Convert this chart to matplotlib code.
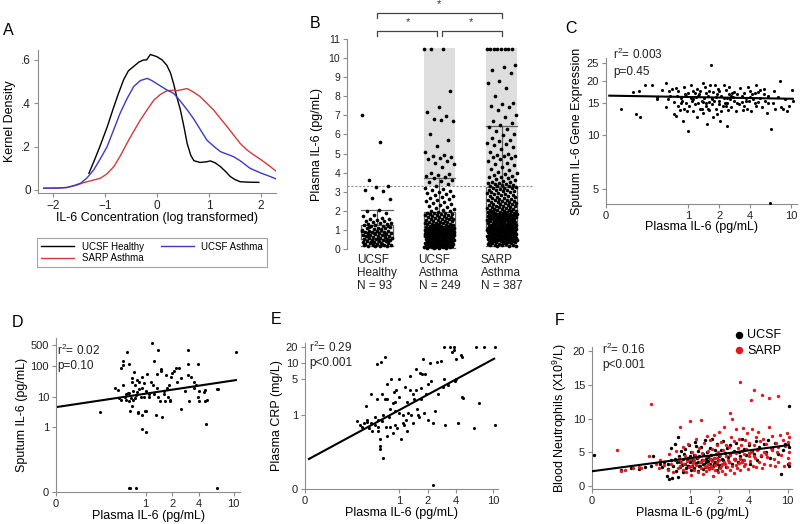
import numpy as np
import matplotlib
matplotlib.use("Agg")
import matplotlib.pyplot as plt

plt.rcParams['font.family'] = ['Liberation Sans', 'DejaVu Sans']
plt.rcParams['mathtext.fontset'] = 'custom'
plt.rcParams['mathtext.rm'] = 'Liberation Sans'
plt.rcParams['mathtext.default'] = 'regular'

# ---- A: kernel density curves (log IL-6)
kd_healthy_x = [-1.31, -1.2, -1.1, -0.96, -0.85, -0.75, -0.64, -0.55, -0.45, -0.35, -0.26, -0.2, -0.13, -0.06, 0.0,
                0.1, 0.19, 0.26, 0.32, 0.38, 0.45, 0.52, 0.58, 0.65, 0.71, 0.83, 0.95, 1.03, 1.12, 1.22, 1.32, 1.41,
                1.5, 1.6, 1.75, 1.96]
kd_healthy_y = [0.077, 0.14, 0.2, 0.29, 0.37, 0.44, 0.51, 0.55, 0.57, 0.59, 0.6, 0.6, 0.625, 0.62, 0.615,
                0.6, 0.575, 0.54, 0.49, 0.43, 0.37, 0.29, 0.215, 0.16, 0.135, 0.127, 0.13, 0.134, 0.125, 0.108,
                0.085, 0.062, 0.048, 0.038, 0.036, 0.035]
kd_ucsf_x = [-2.18, -1.9, -1.73, -1.6, -1.47, -1.35, -1.22, -1.1, -0.96, -0.83, -0.71, -0.58, -0.45, -0.32, -0.19,
             -0.1, 0.0, 0.1, 0.2, 0.32, 0.45, 0.58, 0.7, 0.83, 0.96, 1.1, 1.22, 1.35, 1.47, 1.6, 1.79, 2.0, 2.18, 2.3]
kd_ucsf_y = [0.008, 0.009, 0.011, 0.02, 0.031, 0.055, 0.092, 0.14, 0.2, 0.28, 0.354, 0.42, 0.477, 0.505, 0.515,
             0.505, 0.49, 0.475, 0.46, 0.446, 0.41, 0.37, 0.33, 0.28, 0.23, 0.2, 0.177, 0.165, 0.154, 0.135, 0.1,
             0.078, 0.062, 0.05]
kd_sarp_x = [-2.18, -1.9, -1.73, -1.55, -1.41, -1.25, -1.09, -0.96, -0.83, -0.7, -0.58, -0.45, -0.32, -0.19, -0.06,
             0.06, 0.19, 0.3, 0.38, 0.48, 0.58, 0.7, 0.83, 0.96, 1.09, 1.22, 1.35, 1.47, 1.6, 1.73, 1.86, 2.0, 2.18, 2.3]
kd_sarp_y = [0.008, 0.009, 0.012, 0.022, 0.034, 0.044, 0.054, 0.075, 0.108, 0.16, 0.215, 0.27, 0.323, 0.37, 0.415,
             0.44, 0.458, 0.46, 0.458, 0.463, 0.468, 0.452, 0.431, 0.4, 0.369, 0.33, 0.292, 0.255, 0.215, 0.185,
             0.162, 0.14, 0.108, 0.085]

# ---- B: plasma IL-6 per group
b_groups = ['UCSF\nHealthy\nN = 93', 'UCSF\nAsthma\nN = 249', 'SARP\nAsthma\nN = 387']
healthy_il6 = [7.0, 5.6, 3.6, 3.3, 3.25, 3.1, 3.05, 2.7, 2.6, 2.05, 1.98, 1.9, 1.8, 1.72, 1.65, 1.6, 1.55, 1.5, 1.48,
               1.45, 1.41, 1.38, 1.35, 1.32, 1.3, 1.27, 1.25, 1.22, 1.19, 1.16, 1.13, 1.1, 1.08, 1.05, 1.02, 0.99,
               0.97, 0.95, 0.93, 0.91, 0.89, 0.87, 0.86, 0.84, 0.82, 0.8, 0.78, 0.76, 0.74, 0.72, 0.7, 0.68, 0.66,
               0.64, 0.62, 0.6, 0.58, 0.56, 0.55, 0.53, 0.52, 0.5, 0.48, 0.46, 0.44, 0.42, 0.4, 0.38, 0.36, 0.34,
               0.32, 0.3, 0.28, 0.26, 0.24, 0.22, 0.2, 0.18, 0.16, 0.14, 0.15, 0.21, 0.27, 0.35, 0.47, 0.57, 0.67,
               0.77, 0.85, 0.94, 1.04, 1.14, 1.21]
ucsf_asthma_il6 = [10.5, 10.5, 10.5, 8.3, 7.45, 7.2, 6.95, 6.8, 6.7, 6.75, 6.0, 5.7, 5.4, 5.1, 4.95, 4.85, 4.8, 4.75,
                   4.7, 4.6, 4.5, 4.45, 4.3, 4.0, 3.95, 3.9, 3.85, 3.8, 3.7, 3.6, 3.55, 3.5, 3.4, 3.3, 3.2, 3.15, 3.1,
                   3.05, 3.0, 2.95, 2.9, 2.85, 2.8, 2.75, 2.7, 2.6, 2.55, 2.5, 2.45, 2.4, 2.35, 2.3, 2.25, 2.2, 2.15,
                   2.1, 2.05, 2.0, 1.98, 1.95,
                   1.91, 1.9, 1.88, 1.86, 1.85, 1.83, 1.8, 1.78, 1.77, 1.75, 1.72, 1.7, 1.69, 1.67, 1.65, 1.63, 1.6,
                   1.58, 1.57, 1.55, 1.53, 1.5, 1.49, 1.47, 1.45, 1.44, 1.42, 1.4, 1.38, 1.37, 1.35, 1.33, 1.32, 1.3,
                   1.29, 1.27, 1.26, 1.24, 1.23, 1.21, 1.2, 1.19, 1.18, 1.17, 1.16, 1.15, 1.14, 1.13, 1.12, 1.11, 1.1,
                   1.09, 1.08, 1.08, 1.07, 1.07, 1.06, 1.06, 1.05, 1.05,
                   1.04, 1.03, 1.03, 1.02, 1.01, 1.0, 1.0, 0.99, 0.98, 0.98, 0.97, 0.96, 0.95, 0.95, 0.94, 0.93, 0.92,
                   0.92, 0.91, 0.9, 0.9, 0.89, 0.88, 0.87, 0.87, 0.86, 0.85, 0.85, 0.84, 0.83, 0.82, 0.82, 0.81, 0.8,
                   0.8, 0.79, 0.78, 0.78, 0.77, 0.76, 0.76, 0.75, 0.74, 0.74, 0.73, 0.72, 0.72, 0.71, 0.71, 0.7, 0.7,
                   0.69, 0.69, 0.68, 0.68, 0.67, 0.67, 0.66, 0.66, 0.66,
                   0.65, 0.64, 0.63, 0.62, 0.61, 0.6, 0.59, 0.58, 0.57, 0.56, 0.55, 0.54, 0.53, 0.52, 0.51, 0.5, 0.49,
                   0.48, 0.47, 0.46, 0.45, 0.44, 0.43, 0.42, 0.41, 0.4, 0.39, 0.38, 0.37, 0.36, 0.35, 0.34, 0.33, 0.32,
                   0.31, 0.3, 0.29, 0.28, 0.27, 0.26, 0.25, 0.24, 0.23, 0.22, 0.21, 0.2, 0.19, 0.18, 0.17, 0.16, 0.15,
                   0.14, 0.13, 0.12, 0.11, 0.1, 0.09, 0.08, 0.07, 0.06, 0.05]
sarp_il6 = [10.5, 10.5, 10.5, 10.5, 10.5, 10.5, 10.5, 10.5, 9.65, 9.55, 9.4, 9.2, 8.8, 8.7, 8.45, 8.0, 7.65, 7.6, 7.5,
            7.45, 7.3, 7.0, 6.9, 6.7, 6.6, 6.5,
            6.4, 6.3, 6.2, 6.05, 5.95, 5.8, 5.7, 5.65, 5.55, 5.5, 5.45, 5.35, 5.25, 5.1, 5.0, 4.95, 4.9, 4.85, 4.8,
            4.75, 4.7, 4.6, 4.5, 4.45, 4.4, 4.3, 4.2, 4.15, 4.05, 4.0, 3.95, 3.9, 3.85, 3.8, 3.75, 3.7, 3.65, 3.6,
            3.55, 3.5, 3.5, 3.45, 3.45, 3.4, 3.4, 3.35, 3.35, 3.3, 3.3, 3.28,
            3.24, 3.22, 3.2, 3.18, 3.15, 3.12, 3.1, 3.07, 3.05, 3.02, 3.0, 2.97, 2.94, 2.92, 2.9, 2.87, 2.84, 2.81,
            2.79, 2.76, 2.74, 2.71, 2.69, 2.66, 2.64, 2.61, 2.59, 2.57, 2.55, 2.52, 2.5, 2.48, 2.46, 2.44, 2.42, 2.4,
            2.38, 2.36, 2.34, 2.32, 2.3, 2.28, 2.26, 2.24, 2.22, 2.2, 2.18, 2.16, 2.14, 2.12, 2.1, 2.08, 2.06, 2.04,
            2.03, 2.01, 2.0, 1.98, 1.97, 1.95, 1.94, 1.92, 1.91, 1.9, 1.88, 1.87, 1.86, 1.85, 1.84, 1.83, 1.82, 1.81,
            1.8, 1.79, 1.79, 1.78, 1.78, 1.78,
            1.77, 1.76, 1.75, 1.74, 1.73, 1.72, 1.71, 1.7, 1.69, 1.68, 1.67, 1.66, 1.65, 1.64, 1.63, 1.62, 1.61, 1.6,
            1.58, 1.57, 1.56, 1.55, 1.53, 1.52, 1.51, 1.5, 1.48, 1.47, 1.46, 1.45, 1.43, 1.42, 1.41, 1.4, 1.38, 1.37,
            1.36, 1.35, 1.33, 1.32, 1.31, 1.3, 1.28, 1.27, 1.26, 1.25, 1.24, 1.23, 1.22, 1.21, 1.2, 1.19, 1.18, 1.17,
            1.16, 1.15, 1.14, 1.13, 1.12, 1.11, 1.1, 1.09, 1.08, 1.08, 1.07, 1.07, 1.06, 1.06, 1.05, 1.05, 1.04,
            1.04, 1.03, 1.03, 1.03, 1.02, 1.02, 1.02,
            1.01, 1.0, 0.99, 0.98, 0.97, 0.96, 0.95, 0.94, 0.93, 0.92, 0.91, 0.9, 0.89, 0.88, 0.87, 0.86, 0.85, 0.84,
            0.83, 0.82, 0.81, 0.8, 0.79, 0.78, 0.77, 0.76, 0.75, 0.74, 0.73, 0.72, 0.71, 0.7, 0.69, 0.68, 0.67, 0.66,
            0.65, 0.64, 0.63, 0.62, 0.61, 0.6, 0.59, 0.58, 0.57, 0.56, 0.55, 0.54, 0.53, 0.52, 0.51, 0.5, 0.49, 0.48,
            0.47, 0.46, 0.45, 0.44, 0.42, 0.41, 0.4, 0.38, 0.37, 0.36, 0.35, 0.33, 0.32, 0.3, 0.29, 0.27, 0.26, 0.24,
            0.23, 0.21, 0.2, 0.18, 0.17, 0.15]
box_lo = [0.14, 0.05, 0.15]
box_q1 = [0.52, 0.67, 1.02]
box_med = [0.87, 1.05, 1.78]
box_q3 = [1.26, 1.93, 3.25]
box_hi = [2.03, 3.7, 6.45]
high_cut = 3.28
shade_top = 10.55

# ---- C: sputum IL-6 gene expression vs plasma IL-6
c_x = [0.22, 0.29, 0.31, 0.33, 0.34, 0.38, 0.44, 0.5, 0.5, 0.55, 0.6, 0.6, 0.63, 0.65, 0.66, 0.7, 0.72, 0.73, 0.75,
       0.76, 0.78, 0.8, 0.8, 0.83, 0.85, 0.87, 0.88, 0.9, 0.9, 0.92, 0.95, 0.97, 1.0, 1.0, 1.02, 1.05, 1.05, 1.08,
       1.1, 1.12, 1.15, 1.18, 1.2, 1.22, 1.25, 1.28, 1.3, 1.3, 1.35, 1.38, 1.4, 1.42, 1.45, 1.48, 1.5, 1.5, 1.52,
       1.55, 1.58, 1.6, 1.62, 1.65, 1.68, 1.7, 1.72, 1.75, 1.78, 1.8, 1.85, 1.88, 1.9, 1.95, 2.0, 2.0, 2.05, 2.1,
       2.15, 2.2, 2.25, 2.3, 2.35, 2.4, 2.45, 2.5, 2.55, 2.6, 2.65, 2.7, 2.8, 2.9, 3.0, 3.1, 3.2, 3.3, 3.4, 3.5, 3.6,
       3.7, 3.8, 3.9, 4.0, 4.1, 4.2, 4.4, 4.5, 4.6, 4.8, 5.0, 5.2, 5.4, 5.6, 5.8, 6.0, 6.2, 6.4, 6.6, 6.8, 7.0, 7.4,
       7.8, 8.0, 8.4, 8.8, 9.2, 9.6, 10.2, 10.4,
       1.1, 1.25, 1.4, 1.55, 1.7, 1.85, 2.0, 2.2, 2.4, 2.6, 2.8, 3.0, 3.3, 3.6, 4.0, 4.4, 4.8, 5.4, 6.0, 0.95, 0.85,
       1.15, 1.35, 1.6, 2.1, 2.3, 2.5, 3.5, 4.3, 5.0]
c_y = [14.0, 17.2, 13.0, 17.5, 12.5, 19.0, 19.0, 16.2, 15.8, 17.8, 19.5, 14.2, 15.8, 17.5, 16.5, 18.0, 13.0, 15.2,
       18.3, 12.8, 16.5, 14.5, 17.5, 13.8, 16.0, 15.5, 12.0, 18.5, 14.0, 16.8, 15.0, 13.5, 10.5, 17.0, 14.5, 16.0,
       19.0, 15.5, 13.5, 17.5, 14.8, 16.2, 12.5, 18.0, 15.0, 16.8, 14.0, 17.5, 15.5, 19.5, 13.2, 16.0, 18.5, 15.0,
       14.5, 17.0, 11.5, 16.5, 15.2, 13.8, 18.8, 24.5, 16.0, 14.8, 12.5, 17.2, 15.5, 19.0, 14.0, 16.8, 13.0, 18.0,
       15.5, 17.5, 12.0, 16.5, 14.5, 18.8, 15.0, 17.8, 11.2, 16.0, 13.8, 18.5, 15.8, 14.2, 17.0, 16.2, 15.5, 13.5,
       16.8, 14.8, 18.2, 15.2, 13.8, 17.0, 16.0, 14.0, 18.5, 15.5, 17.5, 13.5, 16.8, 15.0, 19.0, 14.5, 17.2, 16.0,
       14.2, 18.0, 15.5, 13.2, 16.5, 4.2, 10.8, 15.0, 17.5, 14.0, 16.2, 19.8, 14.2, 14.0, 15.8, 13.5, 14.5, 17.8,
       15.5,
       15.8, 16.5, 15.2, 14.0, 15.8, 16.2, 14.8, 16.0, 15.0, 16.5, 17.2, 15.0, 16.5, 15.5, 16.2, 17.0, 15.2, 16.8,
       15.0, 16.5, 15.0, 17.0, 14.0, 17.5, 13.5, 14.5, 16.8, 14.5, 15.8, 17.8]
c_fit = (16.22, -0.36)  # y = a + b*log10(x)

# ---- D: sputum IL-6 vs plasma IL-6 (0 = undetectable)
d_x = [0.3, 0.45, 0.48, 0.5, 0.52, 0.53, 0.55, 0.55, 0.56, 0.58, 0.6, 0.6, 0.62, 0.63, 0.64, 0.65, 0.65, 0.67, 0.68,
       0.7, 0.7, 0.7, 0.72, 0.72, 0.74, 0.75, 0.75, 0.78, 0.8, 0.8, 0.82, 0.82, 0.85, 0.85, 0.88, 0.9, 0.9, 0.92,
       0.95, 0.95, 0.98, 1.0, 1.0, 1.0, 1.05, 1.1, 1.1, 1.15, 1.18, 1.25, 1.25, 1.3, 1.35, 1.35, 1.4, 1.4, 1.45, 1.5,
       1.5, 1.55, 1.6, 1.6, 1.65, 1.7, 1.75, 1.8, 1.85, 1.9, 1.9, 1.95, 2.0, 2.1, 2.2, 2.3, 2.4, 2.5, 2.8, 3.0, 3.0,
       3.0, 3.1, 3.3, 3.5, 3.7, 3.9, 3.9, 4.0, 4.0, 4.6, 4.7, 4.7, 4.8, 5.0, 6.4, 6.6, 10.5, 3.5, 2.5, 1.2, 0.9,
       0.64, 0.67, 0.78, 6.4]
d_y = [3.2, 20, 17, 9, 8, 85, 150, 110, 25, 10, 12, 8, 300, 13, 120, 7, 13, 3.5, 9, 40, 30, 5, 15, 8, 65, 25, 9, 11,
       35, 14, 3, 3.2, 30, 18, 10, 20, 2.5, 0.9, 28, 10, 3.5, 0.7, 3.5, 16, 55, 10, 12, 30, 600, 12, 150, 2.5, 20,
       55, 10, 350, 7, 80, 70, 2.2, 15, 12, 7, 50, 20, 10, 25, 7, 8, 45, 60, 70, 90, 30, 85, 4, 15, 350, 120, 50, 7,
       45, 30, 25, 10, 120, 7, 15, 14, 17, 7, 1.3, 8, 18, 18, 300, 20, 40, 25, 45,
       0, 0, 0, 0]
d_fit = (1.10, 0.435)  # log10(y) = a + b*log10(x)

# ---- E: plasma CRP vs plasma IL-6
e_x = [0.36, 0.38, 0.4, 0.42, 0.44, 0.45, 0.45, 0.48, 0.5, 0.5, 0.52, 0.55, 0.56, 0.58, 0.58, 0.6, 0.6, 0.6, 0.62,
       0.62, 0.63, 0.64, 0.65, 0.65, 0.68, 0.68, 0.7, 0.7, 0.72, 0.74, 0.75, 0.75, 0.78, 0.8, 0.8, 0.82, 0.85, 0.85,
       0.88, 0.9, 0.9, 0.92, 0.95, 1.0, 1.0, 1.05, 1.1, 1.1, 1.12, 1.15, 1.18, 1.2, 1.25, 1.3, 1.3, 1.35, 1.4, 1.45,
       1.5, 1.5, 1.55, 1.6, 1.62, 1.65, 1.7, 1.75, 1.8, 1.85, 1.9, 1.95, 2.0, 2.1, 2.2, 2.3, 2.3, 2.4, 2.5, 2.6, 2.8,
       2.9, 3.0, 3.0, 3.1, 3.3, 3.5, 3.6, 3.8, 3.8, 3.9, 4.0, 4.0, 4.2, 4.5, 4.6, 4.6, 4.8, 6.5, 6.3, 7.0, 8.0, 10.5,
       10.5, 1.4, 1.0, 0.9, 1.2, 1.7, 2.0]
e_y = [0.75, 0.65, 0.6, 0.7, 1.5, 0.8, 0.72, 0.55, 0.7, 2.5, 0.5, 0.9, 0.65, 9.5, 2.0, 0.8, 0.6, 0.5, 0.35, 0.25,
       0.22, 10.5, 2.5, 0.75, 0.15, 1.0, 13, 2.0, 0.6, 2.0, 4.0, 0.4, 0.9, 1.3, 0.6, 5.0, 0.45, 1.7, 2.7, 0.65, 1.2,
       3.0, 0.55, 5.0, 1.1, 0.35, 1.0, 0.7, 0.65, 3.5, 0.8, 0.5, 1.1, 5.5, 3.0, 1.0, 0.7, 2.0, 7.5, 3.0, 1.3, 1.0,
       0.9, 6.5, 2.0, 6.0, 12, 1.1, 6.0, 2.5, 0.8, 10, 4.5, 0.7, 0, 1.2, 10.5, 2.5, 11, 3.5, 20, 5.0, 0.65, 3.8, 20,
       16, 20, 18, 4.5, 12, 4.8, 0.7, 14, 13, 2.2, 2.1, 20, 0.55, 1.7, 20, 20, 0.65, 2.5, 2.2, 1.8, 1.8, 3.3, 4.0]
e_fit = (0.093, 0.978)  # log10(y) = a + b*log10(x)

# ---- F: blood neutrophils vs plasma IL-6
f_ucsf_x = [0.105, 0.2, 0.25, 0.3, 0.35, 0.4, 0.42, 0.5, 0.52, 0.55, 0.58, 0.6, 0.6, 0.62, 0.64, 0.65, 0.66, 0.68,
            0.7, 0.7, 0.72, 0.74, 0.75, 0.76, 0.78, 0.8, 0.8, 0.82, 0.84, 0.85, 0.86, 0.88, 0.9, 0.9, 0.92, 0.94,
            0.95, 0.96, 0.98, 1.0, 1.0, 1.02, 1.04, 1.05, 1.07, 1.1, 1.1, 1.12, 1.15, 1.18, 1.2, 1.2, 1.22, 1.25,
            1.28, 1.3, 1.32, 1.35, 1.38, 1.4, 1.42, 1.45, 1.48, 1.5, 1.52, 1.55, 1.58, 1.6, 1.62, 1.65, 1.68, 1.7,
            1.72, 1.75, 1.8, 1.82, 1.85, 1.9, 1.92, 1.95, 2.0, 2.05, 2.1, 2.15, 2.2, 2.25, 2.3, 2.35, 2.4, 2.45, 2.5,
            2.55, 2.6, 2.7, 2.8, 2.9, 3.0, 3.1, 3.2, 3.3, 3.4, 3.5, 3.6, 3.8, 4.0, 4.1, 4.3, 4.5, 4.7, 4.9, 5.1, 5.4,
            5.7, 6.0, 6.3, 6.6, 7.0, 7.5, 8.0, 8.5, 9.0, 9.5, 10.0, 10.3, 10.3, 10.4, 1.15, 1.35, 1.6, 1.9, 2.2, 0.95,
            1.25, 1.45, 1.75, 2.0]
f_ucsf_y = [4.6, 2.3, 2.7, 2.5, 2.8, 3.0, 4.5, 3.2, 2.8, 3.6, 1.5, 3.3, 2.5, 1.0, 5.7, 3.9, 1.2, 3.0, 6.2, 4.0, 2.2,
            3.5, 7.2, 1.3, 4.4, 2.8, 3.6, 5.2, 3.1, 4.0, 2.0, 4.8, 3.3, 5.5, 2.6, 3.8, 4.2, 2.9, 6.0, 3.5, 4.5, 2.4,
            5.0, 3.0, 3.8, 4.6, 2.7, 6.5, 3.4, 4.1, 2.2, 5.2, 3.6, 4.4, 3.0, 5.8, 3.9, 2.5, 4.7, 3.3, 6.8, 4.0, 2.8,
            5.0, 3.7, 4.3, 2.6, 5.6, 3.2, 4.6, 3.9, 7.0, 2.9, 4.2, 5.3, 3.5, 4.8, 2.4, 6.2, 3.8, 4.5, 3.1, 5.4, 4.0,
            6.6, 3.4, 4.9, 2.8, 5.7, 4.3, 3.6, 6.0, 4.7, 3.2, 5.2, 4.0, 6.4, 3.5, 5.0, 4.4, 7.0, 3.8, 5.5, 4.6, 6.0,
            3.3, 5.2, 4.8, 6.6, 3.9, 5.8, 4.4, 6.2, 5.0, 6.8, 4.2, 5.6, 6.4, 4.8, 1.8, 5.4, 6.2, 3.2, 11.8, 3.0, 5.8,
            5.9, 3.2, 4.0, 3.3, 3.9, 3.0, 2.9, 3.5, 3.3, 2.8]
f_sarp_x = [0.18, 0.2, 0.22, 0.26, 0.3, 0.32, 0.38, 0.4, 0.45, 0.48, 0.5, 0.55, 0.6, 0.62, 0.65, 0.68, 0.7, 0.72,
            0.75, 0.78, 0.8, 0.8, 0.82, 0.85, 0.86, 0.88, 0.9, 0.92, 0.94, 0.96, 0.98, 1.0, 1.0, 1.02, 1.04, 1.06,
            1.08, 1.1, 1.12, 1.15, 1.17, 1.2, 1.22, 1.25, 1.27, 1.3, 1.3, 1.33, 1.35, 1.38, 1.4, 1.42, 1.45, 1.48, 1.5,
            1.52, 1.55, 1.58, 1.6, 1.62, 1.65, 1.68, 1.7, 1.72, 1.75, 1.78, 1.8, 1.82, 1.85, 1.88, 1.9, 1.93, 1.96,
            2.0, 2.0, 2.03, 2.06, 2.1, 2.13, 2.16, 2.2, 2.23, 2.26, 2.3, 2.33, 2.36, 2.4, 2.45, 2.5, 2.55, 2.6, 2.6,
            2.65, 2.7, 2.7, 2.75, 2.8, 2.85, 2.9, 2.95, 3.0, 3.05, 3.1, 3.15, 3.2, 3.25, 3.3, 3.3, 3.35, 3.4, 3.45,
            3.5, 3.55, 3.6, 3.65, 3.7, 3.8, 3.85, 3.9, 4.0, 4.05, 4.1, 4.2, 4.2, 4.3, 4.4, 4.5, 4.5, 4.6, 4.7, 4.8,
            4.9, 5.0, 5.1, 5.2, 5.3, 5.5, 5.5, 5.6, 5.7, 5.8, 6.0, 6.2, 6.4, 6.5, 6.6, 6.8, 7.0, 7.2, 7.4, 7.6, 7.8,
            8.0, 8.0, 8.3, 8.6, 8.9, 9.2, 9.5, 9.8, 10.0, 10.2, 10.3, 10.4, 10.4, 1.1, 1.3, 1.5, 1.7, 1.9, 2.1, 2.3,
            2.5, 2.8, 3.0, 3.3, 3.6, 4.0, 4.5, 5.0, 6.0, 7.0, 8.0]
f_sarp_y = [5.3, 2.2, 2.4, 2.6, 2.8, 2.6, 4.4, 12.2, 3.2, 2.7, 3.9, 3.1, 2.4, 4.7, 3.3, 2.0, 3.8, 5.2, 2.6, 4.1, 8.8,
            3.0, 3.5, 2.3, 5.8, 3.2, 4.4, 2.0, 3.7, 6.2, 2.8, 9.7, 4.0, 3.0, 1.6, 5.0, 3.4, 2.4, 4.6, 7.0, 3.1, 2.1,
            4.3, 5.6, 3.6, 9.8, 2.6, 4.9, 1.8, 3.9, 6.4, 3.0, 2.2, 4.5, 7.4, 3.3, 5.2, 2.5, 4.0, 6.8, 2.9, 3.7, 5.5,
            1.5, 4.2, 7.6, 3.1, 2.3, 4.8, 6.0, 3.5, 2.0, 5.1, 8.0, 3.9, 2.6, 4.6, 6.5, 3.2, 2.2, 5.4, 8.8, 3.6, 1.7,
            4.4, 6.1, 2.8, 3.9, 5.8, 2.4, 10.8, 4.6, 7.2, 10.0, 3.0, 5.0, 1.9, 6.6, 3.8, 4.9, 8.4, 2.7, 5.6, 3.4, 7.0,
            4.2, 15.4, 2.3, 6.0, 3.6, 5.2, 8.6, 2.9, 4.7, 6.8, 3.2, 5.5, 7.8, 2.5, 4.4, 6.3, 3.7, 12.8, 5.1, 8.4, 3.0,
            14.2, 6.0, 4.1, 7.3, 2.8, 5.4, 8.0, 3.5, 6.6, 4.6, 13.5, 2.6, 7.0, 5.0, 3.3, 6.2, 4.3, 8.8, 13.0, 3.1,
            5.7, 7.4, 4.0, 2.9, 6.4, 5.1, 13.3, 3.6, 7.6, 4.6, 6.8, 3.0, 5.9, 7.8, 4.2, 6.5, 3.4, 7.2, 5.0, 3.8, 3.5,
            2.8, 2.6, 4.1, 3.0, 3.3, 3.5, 4.0, 3.1, 4.0, 3.8, 4.9, 4.4, 5.5, 4.8, 5.3, 5.8]
f_fit = (4.11, 1.93)  # y = a + b*log10(x)

grey = '#8c8c8c'
red = '#e0191e'

fig = plt.figure(figsize=(8, 5.24), dpi=100)


def add_ax(l, t, r, b):
    return fig.add_axes([l / 800, 1 - b / 524, (r - l) / 800, (b - t) / 524])


def style(ax, spines=('left', 'bottom'), size=8):
    for s in ['left', 'right', 'top', 'bottom']:
        ax.spines[s].set_visible(s in spines)
        ax.spines[s].set_color(grey)
        ax.spines[s].set_linewidth(0.8)
    ax.tick_params(length=3, width=0.8, color=grey, labelsize=size, pad=2, labelcolor='#222222')
    ax.minorticks_off()


def jitter(n, width=0.48):
    # spread points across the box width (golden ratio sequence)
    return ((np.arange(n) * 0.6180339887) % 1 - 0.5) * width


# ---------- A
ax = add_ax(38, 50, 276, 193)
style(ax, size=8.5)
ax.plot(kd_healthy_x, kd_healthy_y, color='black', lw=1, label='UCSF Healthy')
ax.plot(kd_sarp_x, kd_sarp_y, color='#d23a3a', lw=1, label='SARP Asthma')
ax.plot(kd_ucsf_x, kd_ucsf_y, color='#3a3ac8', lw=1, label='UCSF Asthma')
ax.set_xlim(-2.29, 2.29)
ax.set_ylim(-0.014, 0.646)
ax.set_xticks([-2, -1, 0, 1, 2])
ax.set_yticks([0, 0.2, 0.4, 0.6])
ax.set_yticklabels(['0', '.2', '.4', '.6'])
ax.set_xlabel('IL-6 Concentration (log transformed)', fontsize=9, labelpad=0)
ax.set_ylabel('Kernel Density', fontsize=9, labelpad=4)
leg = ax.legend(loc='lower left', bbox_to_anchor=(37 / 800, 1 - 267 / 524, 230 / 800, 31 / 524),
                bbox_transform=fig.transFigure, mode='expand', ncol=2, fontsize=7, frameon=True, fancybox=False,
                handlelength=3.4, borderaxespad=0, labelspacing=0.15, borderpad=0.4, handletextpad=0.8)
leg.get_frame().set_edgecolor(grey)
leg.get_frame().set_linewidth(0.8)

# ---------- B
ax = add_ax(347, 39, 533, 251)
style(ax, spines=('left',), size=7.5)
groups = [healthy_il6, ucsf_asthma_il6, sarp_il6]
ax.bar([2, 3], [shade_top - high_cut] * 2, bottom=high_cut, width=0.5, color='#dedede', zorder=0)
ax.axhline(high_cut, color='#909090', lw=0.8, ls=(0, (2, 1.5)), zorder=1)
stats = [dict(med=box_med[i], q1=box_q1[i], q3=box_q3[i], whislo=box_lo[i], whishi=box_hi[i], fliers=[])
         for i in range(3)]
lp = dict(color='#606060', lw=0.9)
ax.bxp(stats, positions=[1, 2, 3], widths=0.5, capwidths=0.5, showfliers=False, boxprops=lp, medianprops=lp,
       whiskerprops=lp, capprops=lp, zorder=1)
for i, vals in enumerate(groups):
    vals = np.array(vals)
    ax.scatter(i + 1 + jitter(len(vals)), vals, s=7, color='black', linewidths=0, zorder=3)
ax.set_xlim(0.52, 3.5)
ax.set_ylim(-0.1, 11)
ax.spines['left'].set_bounds(0, 11)
ax.set_yticks(range(12))
ax.set_xticks([1, 2, 3])
ax.set_xticklabels(b_groups, fontsize=8.5, linespacing=1.15)
for lab in ax.get_xticklabels():
    lab.set_multialignment('left')
ax.tick_params(axis='x', length=0, pad=2)
ax.set_ylabel('Plasma IL-6 (pg/mL)', fontsize=9, labelpad=4)
bk = dict(color='#444444', lw=0.9, clip_on=False)
ax.plot([1, 1, 3, 3], [12.08, 12.38, 12.38, 12.08], **bk)
ax.plot([1, 1, 1.96, 1.96], [11.14, 11.44, 11.44, 11.14], **bk)
ax.plot([2.04, 2.04, 3, 3], [11.14, 11.44, 11.44, 11.14], **bk)
for xs, ys in [(2, 12.55), (1.5, 11.6), (2.5, 11.6)]:
    ax.text(xs, ys, '*', ha='center', va='bottom', fontsize=8, color='#333333', clip_on=False)


def log_axes(ax, xlo, xhi):
    ax.set_xscale('log')
    ax.set_xlim(xlo, xhi)
    ax.set_xticks([xlo, 1, 2, 4, 10])
    ax.set_xticklabels(['0', '1', '2', '4', '10'])
    ax.minorticks_off()


def stat_text(x, y1, y2, r2, p):
    fig.text(x / 800, 1 - y1 / 524, 'r$^2$= ' + r2, fontsize=8.5, va='baseline', color='#222222')
    fig.text(x / 800, 1 - y2 / 524, p, fontsize=8.5, va='baseline', color='#222222')


# ---------- C
ax = add_ax(606, 58, 797, 204)
style(ax)
ax.scatter(c_x, c_y, s=5, color='black', linewidths=0, zorder=3)
xx = np.array([0.17, 10.4])
ax.plot(xx, c_fit[0] + c_fit[1] * np.log10(xx), color='black', lw=1.5)
log_axes(ax, 0.158, 11.4)
ax.set_yscale('log')
ax.set_ylim(4.13, 26.7)
ax.set_yticks([5, 10, 15, 20, 25])
ax.set_yticklabels(['5', '10', '15', '20', '25'])
ax.minorticks_off()
ax.set_xlabel('Plasma IL-6 (pg/mL)', fontsize=9, labelpad=0)
ax.set_ylabel('Sputum IL-6 Gene Expression', fontsize=9, labelpad=3)
stat_text(613, 59, 75, '0.003', 'p=0.45')

# ---------- D
ax = add_ax(56, 338, 240, 492)
style(ax)
d_plot = np.where(np.array(d_y) == 0, 0.0102, d_y)
ax.scatter(d_x, d_plot, s=5, color='black', linewidths=0, zorder=3)
xx = np.array([0.1, 10.6])
ax.plot(xx, 10 ** (d_fit[0] + d_fit[1] * np.log10(xx)), color='black', lw=1.5)
log_axes(ax, 0.096, 11.8)
ax.set_yscale('log')
ax.set_ylim(0.0074, 850)
ax.set_yticks([0.0075, 1, 10, 100, 500])
ax.set_yticklabels(['0', '1', '10', '100', '500'])
ax.minorticks_off()
ax.set_xlabel('Plasma IL-6 (pg/mL)', fontsize=9, labelpad=1)
ax.set_ylabel('Sputum IL-6 (pg/mL)', fontsize=9, labelpad=2)
stat_text(57, 355, 369, '0.02', 'p=0.10')

# ---------- E
ax = add_ax(305, 343, 498, 489)
style(ax)
e_plot = np.where(np.array(e_y) == 0, 0.046, e_y)
ax.scatter(e_x, e_plot, s=5, color='black', linewidths=0, zorder=3)
xx = np.array([0.11, 10.2])
ax.plot(xx, 10 ** (e_fit[0] + e_fit[1] * np.log10(xx)), color='black', lw=1.5)
log_axes(ax, 0.1, 11.2)
ax.set_yscale('log')
ax.set_ylim(0.038, 24)
ax.set_yticks([0.038, 1, 5, 10, 20])
ax.set_yticklabels(['0', '1', '5', '10', '20'])
ax.minorticks_off()
ax.set_xlabel('Plasma IL-6 (pg/mL)', fontsize=9, labelpad=1)
ax.set_ylabel('Plasma CRP (mg/L)', fontsize=9, labelpad=2)
stat_text(309, 352, 366, '0.29', 'p<0.001')

# ---------- F
ax = add_ax(592, 347, 792, 489)
style(ax)
ax.scatter(f_ucsf_x, f_ucsf_y, s=6, color='black', linewidths=0, zorder=3, label='UCSF')
ax.scatter(f_sarp_x, f_sarp_y, s=6, color=red, linewidths=0, zorder=3, label='SARP')
xx = np.array([0.1, 10.3])
ax.plot(xx, f_fit[0] + f_fit[1] * np.log10(xx), color='black', lw=1.5, zorder=4)
log_axes(ax, 0.1, 11.1)
ax.set_ylim(-0.45, 20.6)
ax.set_yticks([0, 5, 10, 15, 20])
ax.set_xlabel('Plasma IL-6 (pg/mL)', fontsize=9, labelpad=1)
ax.set_ylabel('Blood Neutrophils (X10$^9$/L)', fontsize=9, labelpad=3)
stat_text(602, 354, 368, '0.16', 'p<0.001')
ax.legend(loc='upper left', bbox_to_anchor=(731 / 800, 1 - 329 / 524), bbox_transform=fig.transFigure,
          frameon=False, fontsize=9, markerscale=2.2, handletextpad=0.1, borderaxespad=0, borderpad=0,
          labelspacing=0.3, handlelength=1.2)

# panel letters
for letter, px, py in [('A', 3, 35), ('B', 310, 28), ('C', 565, 33), ('D', 12, 327), ('E', 271, 324),
                       ('F', 555, 325)]:
    fig.text(px / 800, 1 - py / 524, letter, fontsize=11.5, va='baseline')

fig.savefig('out.png', dpi=100)
